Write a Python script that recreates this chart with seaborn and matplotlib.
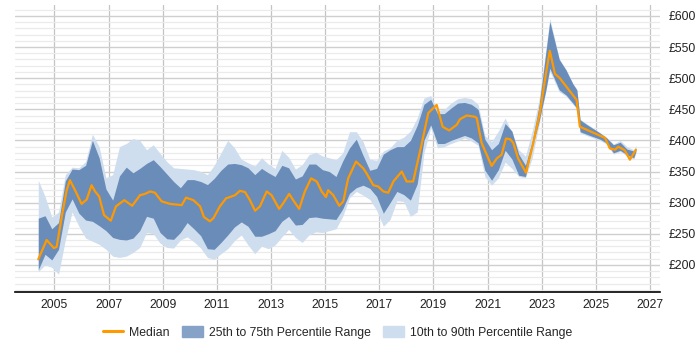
import numpy as np
import matplotlib
matplotlib.use('Agg')
import matplotlib.pyplot as plt
from matplotlib.ticker import MultipleLocator, FuncFormatter
from matplotlib.lines import Line2D
from matplotlib.patches import Patch
import seaborn as sns

sns.set_theme(style="white")
plt.rcParams['font.family'] = ['Liberation Sans', 'DejaVu Sans']

# median series (year, daily rate in GBP)
med_year = [2004.40, 2004.71, 2004.98, 2005.08, 2005.27, 2005.45, 2005.57, 2005.76,
            2006.00, 2006.19, 2006.37, 2006.50, 2006.65, 2006.83, 2007.08, 2007.27,
            2007.58, 2007.87, 2008.16, 2008.34, 2008.53, 2008.71, 2008.96, 2009.27,
            2009.70, 2009.86, 2010.13, 2010.38, 2010.52, 2010.74, 2010.87, 2011.11,
            2011.34, 2011.48, 2011.67, 2011.85, 2012.04, 2012.22, 2012.41, 2012.59,
            2012.84, 2013.02, 2013.30, 2013.45, 2013.67, 2013.82, 2014.04, 2014.25,
            2014.48, 2014.69, 2014.87, 2015.03, 2015.11, 2015.30, 2015.52, 2015.67,
            2015.85, 2016.14, 2016.41, 2016.53, 2016.78, 2016.96, 2017.15, 2017.33,
            2017.52, 2017.83, 2018.01, 2018.25, 2018.56, 2018.81, 2019.12, 2019.34,
            2019.58, 2019.86, 2019.98, 2020.23, 2020.53, 2020.60, 2020.78, 2021.15,
            2021.34, 2021.52, 2021.68, 2021.83, 2021.95, 2022.13, 2022.42, 2022.69,
            2022.93, 2023.16, 2023.30, 2023.49, 2023.67, 2024.29, 2024.41, 2025.34,
            2025.52, 2025.71, 2025.83, 2026.07, 2026.26, 2026.48]
med_val = [209, 240, 227, 229, 278, 320, 336, 320,
           298, 305, 328, 318, 310, 280, 271, 294,
           304, 295, 312, 314, 318, 316, 302, 298,
           296, 308, 304, 294, 277, 270, 275, 294,
           307, 309, 312, 319, 317, 304, 287, 294,
           318, 312, 290, 299, 314, 304, 290, 318,
           339, 334, 318, 309, 320, 312, 295, 302,
           339, 366, 355, 347, 328, 326, 318, 316,
           334, 350, 334, 334, 393, 444, 457, 422,
           416, 425, 434, 440, 438, 436, 396, 359,
           371, 377, 403, 402, 396, 371, 348, 396,
           444, 508, 544, 507, 500, 465, 422, 404,
           387, 385, 390, 384, 369, 385]

# percentile bands on a shared time grid
band_year = [2004.40, 2004.65, 2004.90, 2005.15, 2005.40, 2005.65, 2005.90, 2006.15,
             2006.40, 2006.65, 2006.90, 2007.15, 2007.40, 2007.65, 2007.90, 2008.15,
             2008.40, 2008.65, 2008.90, 2009.15, 2009.40, 2009.65, 2009.90, 2010.15,
             2010.40, 2010.65, 2010.90, 2011.15, 2011.40, 2011.65, 2011.90, 2012.15,
             2012.40, 2012.65, 2012.90, 2013.15, 2013.40, 2013.65, 2013.90, 2014.15,
             2014.40, 2014.65, 2014.90, 2015.15, 2015.40, 2015.65, 2015.90, 2016.15,
             2016.40, 2016.65, 2016.90, 2017.15, 2017.40, 2017.65, 2017.90, 2018.15,
             2018.40, 2018.65, 2018.90, 2019.15, 2019.40, 2019.65, 2019.90, 2020.15,
             2020.40, 2020.65, 2020.90, 2021.15, 2021.40, 2021.65, 2021.90, 2022.15,
             2022.40, 2022.65, 2022.90, 2023.15, 2023.30, 2023.65, 2023.90, 2024.15,
             2024.30, 2024.42, 2024.65, 2024.90, 2025.15, 2025.40, 2025.65, 2025.90,
             2026.15, 2026.40, 2026.48]
p90 = [336, 310, 277, 285, 345, 357, 356, 366,
       410, 390, 340, 345, 390, 395, 403, 400,
       385, 393, 379, 366, 356, 355, 354, 353,
       350, 345, 360, 380, 400, 388, 370, 364,
       359, 372, 362, 355, 384, 373, 354, 361,
       377, 381, 375, 372, 369, 380, 414, 414,
       398, 370, 368, 383, 388, 400, 405, 415,
       436, 468, 472, 448, 450, 460, 467, 469,
       467, 458, 408, 398, 415, 436, 412, 385,
       375, 415, 465, 545, 596, 531, 514, 492,
       482, 434, 427, 420, 413, 405, 394, 400,
       390, 385, 392]
p75 = [275, 279, 258, 268, 335, 354, 353, 360,
       400, 372, 322, 304, 343, 357, 348, 355,
       363, 369, 358, 346, 334, 324, 337, 337,
       334, 329, 339, 352, 362, 363, 361, 356,
       345, 355, 348, 342, 360, 356, 338, 343,
       362, 362, 353, 350, 342, 367, 388, 402,
       376, 352, 355, 378, 385, 390, 390, 400,
       424, 458, 466, 443, 443, 452, 460, 461,
       458, 450, 402, 385, 395, 427, 415, 378,
       360, 398, 455, 540, 591, 530, 513, 491,
       481, 433, 426, 419, 412, 404, 393, 397,
       386, 383, 387]
p25 = [192, 217, 208, 225, 285, 306, 283, 272,
       270, 263, 255, 244, 241, 240, 243, 255,
       278, 275, 252, 242, 241, 252, 268, 258,
       247, 226, 225, 236, 248, 261, 269, 262,
       246, 246, 250, 255, 270, 278, 264, 265,
       276, 277, 275, 274, 273, 290, 315, 324,
       328, 323, 310, 283, 300, 318, 313, 304,
       330, 400, 425, 395, 395, 400, 404, 408,
       404, 396, 352, 336, 353, 384, 370, 344,
       342, 390, 430, 480, 516, 481, 473, 460,
       452, 414, 410, 406, 402, 396, 380, 384,
       377, 372, 382]
p10 = [189, 200, 196, 185, 240, 285, 262, 243,
       238, 233, 225, 214, 212, 214, 220, 228,
       252, 250, 235, 228, 227, 240, 245, 237,
       227, 212, 209, 218, 226, 239, 248, 232,
       218, 230, 226, 232, 245, 257, 244, 236,
       248, 253, 252, 255, 258, 278, 308, 318,
       312, 305, 288, 262, 273, 303, 302, 278,
       285, 380, 420, 388, 390, 395, 399, 404,
       399, 392, 342, 328, 340, 365, 355, 342,
       340, 372, 425, 478, 511, 478, 471, 458,
       450, 412, 408, 404, 400, 394, 378, 382,
       375, 370, 380]

x_ticks = [2005, 2007, 2009, 2011, 2013, 2015, 2017, 2019, 2021, 2023, 2025, 2027]

c_med = '#ff9900'
c_dark = '#6a8cb9'
c_light = '#cfdeee'

fig = plt.figure(figsize=(7, 3.5), dpi=100)
ax = fig.add_axes([0.0214, 0.166, 0.9214, 0.82])

ax.fill_between(band_year, p10, p90, color=c_light, lw=0, zorder=2)
ax.fill_between(band_year, p25, p75, color=c_dark, lw=0, zorder=3)
sns.lineplot(x=med_year, y=med_val, color=c_med, lw=1.6, ax=ax, zorder=4)

ax.set_xlim(2003.54, 2027.37)
ax.set_ylim(156.6, 617.7)
ax.set_xticks(x_ticks)
ax.set_xticklabels([str(t) for t in x_ticks])
ax.yaxis.set_major_locator(MultipleLocator(50))
ax.yaxis.set_minor_locator(MultipleLocator(10))
ax.yaxis.set_major_formatter(FuncFormatter(lambda v, p: f'£{int(v)}'))
ax.yaxis.tick_right()

ax.set_axisbelow(True)
ax.grid(which='major', axis='y', color='#cfcfcf', lw=1.0)
ax.grid(which='minor', axis='y', color='#ebebeb', lw=0.9)
ax.grid(which='major', axis='x', color='#c4c4c4', lw=0.9)

for s in ['top', 'left', 'right']:
    ax.spines[s].set_visible(False)
ax.spines['bottom'].set_color('#000000')
ax.spines['bottom'].set_linewidth(1.2)
ax.tick_params(axis='both', which='both', length=0, labelsize=8.8, colors='#222222')
ax.tick_params(axis='x', pad=5)
ax.tick_params(axis='y', pad=6)
ax.set_xlabel('')
ax.set_ylabel('')

handles = [Line2D([0], [0], color=c_med, lw=2.2),
           Patch(color='#86a3c7'),
           Patch(color=c_light)]
labels = ['Median', '25th to 75th Percentile Range', '10th to 90th Percentile Range']
fig.legend(handles, labels, loc='center', bbox_to_anchor=(0.482, 0.05), ncol=3,
           frameon=False, fontsize=8.8, handlelength=1.7, handleheight=1.0,
           handletextpad=0.5, columnspacing=1.0)

fig.savefig('out.png', dpi=100)
